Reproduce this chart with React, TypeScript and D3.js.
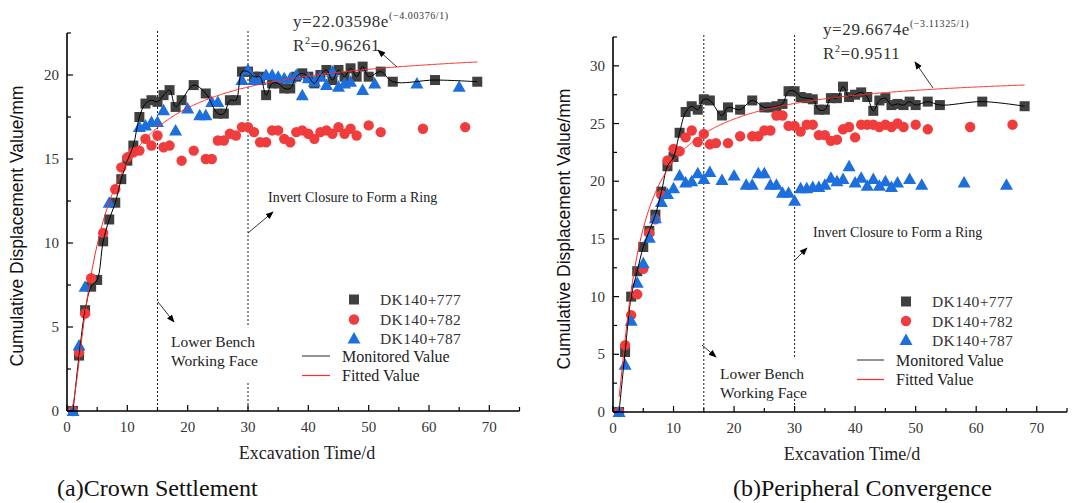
import React from 'react';
import * as d3 from 'd3';

// ---------- DATA ----------
const xTicks = [0, 10, 20, 30, 40, 50, 60, 70];
const crownYTicks = [0, 5, 10, 15, 20];
const convYTicks = [0, 5, 10, 15, 20, 25, 30];
const stageDays = [15, 30];

// (a) Crown settlement
const crown777Days = [1,2,3,4,5,6,7,8,9,10,11,12,13,14,15,16,17,18,19,21,23,25,26,27,28,29,30,31,32,33,34,35,36,37,38,39,40,41,42,43,44,45,46,47,48,49,50,52,54,61,68];
const crown777 = [0,3.3,6.0,7.4,7.8,10.1,11.4,12.4,13.8,14.9,15.8,17.5,18.3,18.5,18.4,18.8,19.1,18.1,18.5,19.4,18.9,17.7,17.7,18.5,18.5,20.2,20.2,19.9,19.9,18.8,19.5,19.5,19.2,19.2,19.9,20.1,19.9,19.5,20.0,20.3,19.7,20.3,19.9,20.4,19.9,20.5,19.9,20.2,19.6,19.7,19.6];
const crown782Days = [1,2,3,4,6,8,9,10,11,12,13,14,15,16,17,19,21,23,24,25,26,27,28,29,30,31,32,33,34,35,36,37,38,39,40,41,42,43,44,45,46,47,48,50,52,59,66];
const crown782 = [0,3.5,5.8,7.9,10.6,13.2,14.5,15.1,15.4,15.5,16.2,15.8,16.4,15.7,15.8,14.9,15.5,15.0,15.0,16.1,16.1,16.5,16.4,16.9,16.9,16.6,16.0,16.0,16.7,16.7,16.2,16.0,16.6,16.7,16.5,16.2,16.6,16.7,16.5,16.9,16.5,16.8,16.4,17.0,16.6,16.8,16.9];
const crown787Days = [1,2,3,7,12,13,14,15,16,18,20,22,23,24,25,29,30,31,32,33,34,35,36,37,38,39,40,41,42,43,44,45,46,47,49,51,58,65];
const crown787 = [0,3.9,7.4,12.4,16.9,17.0,17.2,17.2,17.9,16.7,18.0,17.6,17.6,18.4,18.4,19.7,20.3,19.7,19.7,20.0,20.0,19.9,19.8,19.8,20.0,18.8,19.8,19.6,19.9,19.4,20.2,19.3,19.5,19.6,19.1,19.5,19.5,19.3];
const crownFitA = 22.03598;
const crownFitB = 4.00376;

// (b) Peripheral convergence
const conv777Days = [1,2,3,4,5,6,7,8,9,10,11,12,13,14,15,16,18,19,21,23,25,26,27,28,29,30,31,32,33,34,35,36,37,38,39,40,41,42,43,44,45,46,47,48,49,50,52,54,61,68];
const conv777 = [0,5.2,10.0,12.2,14.3,15.7,17.1,19.1,21.3,22.1,24.2,26.0,26.5,26.2,27.1,27.0,25.7,26.4,26.2,27.0,26.4,26.4,26.5,26.7,27.8,27.8,27.3,27.2,27.1,26.2,26.2,27.2,27.2,28.2,27.3,27.5,27.7,27.3,26.1,27.0,27.2,26.6,26.7,26.6,26.9,26.6,26.9,26.6,26.9,26.5];
const conv782Days = [1,2,3,4,5,6,7,8,9,10,11,12,13,14,15,16,17,19,21,23,24,25,26,27,28,29,30,31,32,33,34,35,36,37,38,39,40,41,42,43,44,45,46,47,48,50,52,59,66];
const conv782 = [0,5.8,8.4,10.2,12.4,15.5,16.7,18.8,21.8,22.8,22.6,23.8,24.4,23.4,24.1,23.2,23.3,23.3,23.9,23.9,23.9,24.4,24.4,25.7,25.7,24.8,24.8,24.3,24.9,24.9,24.0,24.0,23.5,23.6,24.5,24.7,23.8,24.9,24.9,24.9,24.7,24.9,24.7,25.0,24.7,24.9,24.5,24.7,24.9];
const conv787Days = [1,2,3,4,5,6,7,8,9,10,11,12,13,14,15,16,18,20,22,23,24,25,26,27,28,29,30,31,32,33,34,35,36,37,38,39,40,41,42,43,44,45,46,47,49,51,58,65];
const conv787 = [0,4.1,7.9,11.2,12.9,15.1,16.8,18.2,18.9,19.4,20.5,19.9,20.0,20.7,20.2,20.8,20.1,20.5,19.7,19.7,20.7,20.7,19.7,19.7,19.0,19.0,18.3,19.4,19.4,19.5,19.5,19.7,20.3,20.0,20.2,21.3,19.9,20.3,19.6,20.2,19.6,20.0,19.5,19.9,20.2,19.7,19.9,19.7];
const convFitA = 29.6674;
const convFitB = 3.11325;

const seriesNames = ['DK140+777', 'DK140+782', 'DK140+787'];

// ---------- STYLE ----------
const SERIF = '"Liberation Serif", "Times New Roman", serif';
const SANS = '"Liberation Sans", Arial, sans-serif';
const C_BLACK = '#404040';
const C_RED = '#f03c3c';
const C_BLUE = '#1c6fdc';
const C_FIT = '#ff2a2a';

const zip = (d: number[], v: number[]) => d.map((x, i) => [x, v[i]] as [number, number]);

function Marker({ kind, x, y }: { kind: number; x: number; y: number }) {
  if (kind === 0) return <rect x={x - 5} y={y - 5} width={10} height={10} fill={C_BLACK} />;
  if (kind === 1) return <circle cx={x} cy={y} r={5.2} fill={C_RED} />;
  return <path d={`M${x},${y - 6.5} L${x + 6.5},${y + 5} L${x - 6.5},${y + 5} Z`} fill={C_BLUE} />;
}

type Cfg = {
  x0: number; x1: number; yb: number; yt: number; ymax: number; yTicks: number[];
  s777: [number, number][]; s782: [number, number][]; s787: [number, number][];
  fitA: number; fitB: number; fitStart: number;
  eqA: string; eqB: string; r2: string; eqX: number; eqY: number;
  eqArrow: number[];
  invX: number; invY: number; invArrow: number[];
  lbX: number; lbY: number; lbArrow: number[]; lbRect: number[];
  legX: number; legY: number[]; lineX: number[]; lineY: number[];
  yTitleX: number; yTitleY: number; xTitleX: number;
  caption: string; capX: number;
};

function Panel({ c, id }: { c: Cfg; id: string }) {
  const x = d3.scaleLinear().domain([0, 75]).range([c.x0, c.x1]);
  const y = d3.scaleLinear().domain([0, c.ymax]).range([c.yb, c.yt]);
  const minorX = d3.range(0, 76, 5);
  const minorY = d3.range(0, c.ymax + 0.01, 2.5);
  const line = d3.line<[number, number]>().x(d => x(d[0])).y(d => y(d[1])).curve(d3.curveCatmullRom.alpha(0.5));
  const fitPts: [number, number][] = d3.range(c.fitStart, 68.001, 0.2).map(t => [t, c.fitA * Math.exp(-c.fitB / t)]);
  const fitLine = d3.line<[number, number]>().x(d => x(d[0])).y(d => y(d[1]));
  const mk = `url(#arrow-${id})`;
  return (
    <g>
      <defs>
        <marker id={`arrow-${id}`} viewBox="0 0 10 10" refX="9" refY="5" markerWidth="8" markerHeight="8" markerUnits="userSpaceOnUse" orient="auto">
          <path d="M0,1 L10,5 L0,9 Z" fill="#000" />
        </marker>
      </defs>
      {/* stage dashed lines */}
      {stageDays.map(d => (
        <line key={d} x1={x(d)} x2={x(d)} y1={c.yt - 2} y2={c.yb} stroke="#000" strokeWidth={0.9} strokeDasharray="2,2" />
      ))}
      {/* white box behind Lower Bench label */}
      <rect x={c.lbRect[0]} y={c.lbRect[1]} width={c.lbRect[2]} height={c.lbRect[3]} fill="#fff" />
      {/* markers */}
      {c.s777.map((p, i) => <Marker key={'a' + i} kind={0} x={x(p[0])} y={y(p[1])} />)}
      {c.s782.map((p, i) => <Marker key={'b' + i} kind={1} x={x(p[0])} y={y(p[1])} />)}
      {c.s787.map((p, i) => <Marker key={'c' + i} kind={2} x={x(p[0])} y={y(p[1])} />)}
      <path d={line(c.s777) || ''} fill="none" stroke="#000" strokeWidth={1} />
      <path d={fitLine(fitPts) || ''} fill="none" stroke={C_FIT} strokeWidth={1} />
      {/* axes */}
      <line x1={c.x0} x2={c.x1} y1={c.yb} y2={c.yb} stroke="#000" strokeWidth={1.6} />
      <line x1={c.x0} x2={c.x0} y1={c.yb} y2={c.yt} stroke="#000" strokeWidth={1.6} />
      {minorX.map(t => (
        <line key={'mx' + t} x1={x(t)} x2={x(t)} y1={c.yb} y2={c.yb - (t % 10 === 0 ? 6 : 4)} stroke="#000" strokeWidth={1.2} />
      ))}
      {minorY.map(t => (
        <line key={'my' + t} x1={c.x0} x2={c.x0 + (t % 5 === 0 ? 6 : 4)} y1={y(t)} y2={y(t)} stroke="#000" strokeWidth={1.2} />
      ))}
      {xTicks.map(t => (
        <text key={'xt' + t} x={x(t)} y={c.yb + 21} textAnchor="middle" fontFamily={SERIF} fontSize={15} fill="#333">{t}</text>
      ))}
      {c.yTicks.map(t => (
        <text key={'yt' + t} x={c.x0 - 8} y={y(t) + 5} textAnchor="end" fontFamily={SERIF} fontSize={15} fill="#333">{t}</text>
      ))}
      {/* titles */}
      <text x={c.xTitleX} y={c.yb + 48} textAnchor="middle" fontFamily={SERIF} fontSize={18} fill="#222">Excavation Time/d</text>
      <text transform={`translate(${c.yTitleX},${c.yTitleY}) rotate(-90)`} textAnchor="middle" fontFamily={SANS} fontSize={17.5} fill="#111">Cumulative Displacement Value/mm</text>
      <text x={c.capX} y={496} fontFamily={SERIF} fontSize={24} fill="#111">{c.caption}</text>
      {/* equation */}
      <text x={c.eqX} y={c.eqY} fontFamily={SERIF} fontSize={17} fill="#333" letterSpacing={0.6}>
        {c.eqA}<tspan fontSize={10} dy={-8}>{c.eqB}</tspan>
      </text>
      <text x={c.eqX} y={c.eqY + 24} fontFamily={SERIF} fontSize={17} fill="#333" letterSpacing={0.6}>
        R<tspan fontSize={10} dy={-7}>2</tspan><tspan dy={7}>{c.r2}</tspan>
      </text>
      <line x1={c.eqArrow[0]} y1={c.eqArrow[1]} x2={c.eqArrow[2]} y2={c.eqArrow[3]} stroke="#000" strokeWidth={0.8} markerEnd={mk} />
      {/* Invert closure */}
      <text x={c.invX} y={c.invY} fontFamily={SERIF} fontSize={14} fill="#222">Invert Closure to Form a Ring</text>
      <line x1={c.invArrow[0]} y1={c.invArrow[1]} x2={c.invArrow[2]} y2={c.invArrow[3]} stroke="#000" strokeWidth={0.8} markerEnd={mk} />
      {/* Lower bench */}
      <text x={c.lbX} y={c.lbY} fontFamily={SERIF} fontSize={15.5} fill="#222">Lower Bench</text>
      <text x={c.lbX} y={c.lbY + 19} fontFamily={SERIF} fontSize={15.5} fill="#222">Working Face</text>
      <line x1={c.lbArrow[0]} y1={c.lbArrow[1]} x2={c.lbArrow[2]} y2={c.lbArrow[3]} stroke="#000" strokeWidth={0.8} markerEnd={mk} />
      {/* legend */}
      {seriesNames.map((n, i) => (
        <g key={n}>
          <Marker kind={i} x={c.legX} y={c.legY[i]} />
          <text x={c.legX + 26} y={c.legY[i] + 5.5} fontFamily={SERIF} fontSize={15.5} fill="#333" letterSpacing={0.4}>{n}</text>
        </g>
      ))}
      <line x1={c.lineX[0]} x2={c.lineX[1]} y1={c.lineY[0]} y2={c.lineY[0]} stroke="#888" strokeWidth={1.8} />
      <text x={c.lineX[1] + 12} y={c.lineY[0] + 5.5} fontFamily={SERIF} fontSize={16} fill="#222">Monitored Value</text>
      <line x1={c.lineX[0]} x2={c.lineX[1]} y1={c.lineY[1]} y2={c.lineY[1]} stroke={C_FIT} strokeWidth={1.2} />
      <text x={c.lineX[1] + 12} y={c.lineY[1] + 5.5} fontFamily={SERIF} fontSize={16} fill="#222">Fitted Value</text>
    </g>
  );
}

const leftCfg: Cfg = {
  x0: 67, x1: 519.5, yb: 411, yt: 33, ymax: 22.5, yTicks: crownYTicks,
  s777: zip(crown777Days, crown777), s782: zip(crown782Days, crown782), s787: zip(crown787Days, crown787),
  fitA: crownFitA, fitB: crownFitB, fitStart: 0.8,
  eqA: 'y=22.03598e', eqB: '(−4.00376/1)', r2: '=0.96261', eqX: 293, eqY: 27,
  eqArrow: [397, 67, 378, 50],
  invX: 268, invY: 202, invArrow: [248, 233, 273, 212],
  lbX: 171, lbY: 347, lbArrow: [158, 302, 174, 322], lbRect: [168, 327, 96, 56],
  legX: 354, legY: [299.5, 319.5, 338.5], lineX: [302, 330], lineY: [356, 375.5],
  yTitleX: 23, yTitleY: 226, xTitleX: 307,
  caption: '(a)Crown Settlement', capX: 57,
};

const rightCfg: Cfg = {
  x0: 613, x1: 1067, yb: 412, yt: 37, ymax: 32.5, yTicks: convYTicks,
  s777: zip(conv777Days, conv777), s782: zip(conv782Days, conv782), s787: zip(conv787Days, conv787),
  fitA: convFitA, fitB: convFitB, fitStart: 1,
  eqA: 'y=29.6674e', eqB: '(−3.11325/1)', r2: '=0.9511', eqX: 823, eqY: 35,
  eqArrow: [933, 88, 915, 62],
  invX: 813, invY: 237, invArrow: [795, 260, 807, 248],
  lbX: 720, lbY: 379, lbArrow: [702, 345, 716, 357], lbRect: [717, 357, 96, 42],
  legX: 906, legY: [301.5, 321, 340], lineX: [857, 884], lineY: [360, 379.5],
  yTitleX: 570, yTitleY: 229, xTitleX: 852,
  caption: '(b)Peripheral Convergence', capX: 733,
};

export default function App() {
  return (
    <svg width={1080} height={503} viewBox="0 0 1080 503" style={{ position: 'absolute', left: 0, top: 0, background: '#fff' }}>
      <rect x={0} y={0} width={1080} height={503} fill="#fff" />
      <Panel c={leftCfg} id="a" />
      <Panel c={rightCfg} id="b" />
    </svg>
  );
}
